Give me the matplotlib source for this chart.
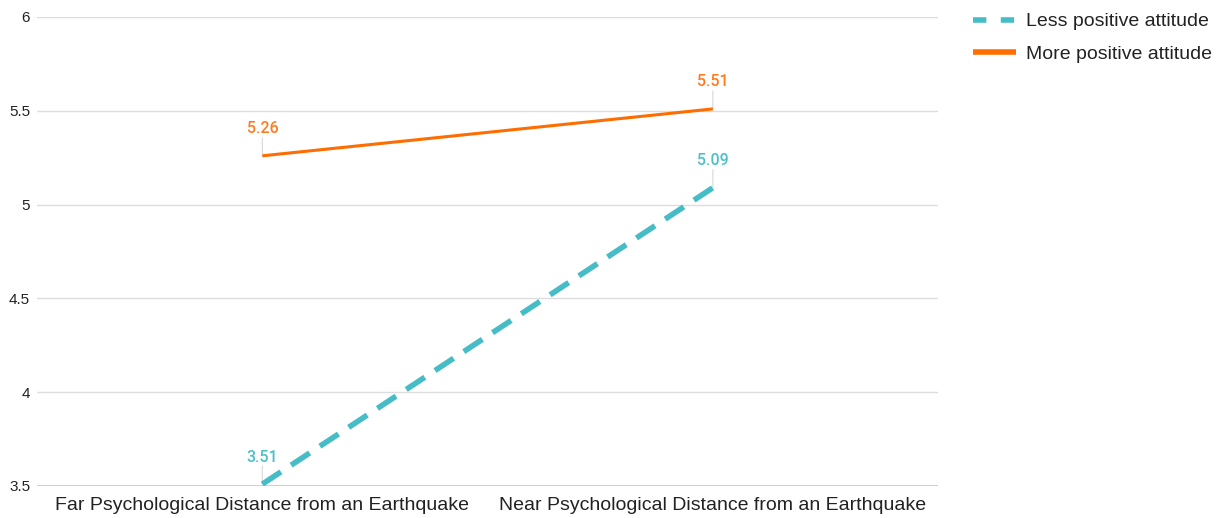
import matplotlib
matplotlib.use("Agg")
import matplotlib.pyplot as plt
from matplotlib.lines import Line2D

categories = ["Far Psychological Distance from an Earthquake",
              "Near Psychological Distance from an Earthquake"]
less_positive = [3.51, 5.09]
more_positive = [5.26, 5.51]
y_ticks = [3.5, 4, 4.5, 5, 5.5, 6]
y_tick_labels = ["3.5", "4", "4.5", "5", "5.5", "6"]

TEAL = "#46bdc6"
ORANGE = "#ff6d01"
TEAL_TXT = "#4cc0c9"
ORANGE_TXT = "#ff7b1f"

fig = plt.figure(figsize=(12.23, 5.18), dpi=100)
ax = fig.add_axes([0.0303, 0.0618, 0.7368, 0.9054])

x = list(range(len(categories)))
ax.plot(x, more_positive, color=ORANGE, lw=2.2, solid_capstyle="butt", zorder=3)
ax.plot(x, less_positive, color=TEAL, lw=4, dashes=(4, 2.2), dash_capstyle="butt", zorder=3)

ax.set_xlim(-0.5, 1.5)
ax.set_ylim(3.5, 6)
ax.set_yticks(y_ticks)
ax.set_yticklabels(y_tick_labels, family="Liberation Sans", fontsize=11, color="#222222")
ax.set_xticks(x)
ax.set_xticklabels(categories, family="Liberation Sans", fontsize=14, color="#222222")
ax.tick_params(axis="y", length=0, pad=5)
ax.tick_params(axis="x", length=0, pad=8)

for s in ax.spines.values():
    s.set_visible(False)
ax.grid(axis="y", color="#dddddd", lw=1)
ax.axhline(3.5, color="#c8c8c8", lw=1.2, zorder=2)
ax.set_axisbelow(True)

# data labels with short leader lines
for series, txtcol in ((more_positive, ORANGE_TXT), (less_positive, TEAL_TXT)):
    for xi, v in zip(x, series):
        ax.annotate("", xy=(xi, v), xytext=(0, 13), textcoords="offset points",
                    arrowprops=dict(arrowstyle="-", color="#d8d8d8", lw=0.8,
                                    shrinkA=0, shrinkB=0), zorder=2)
        ax.annotate(f"{v:.2f}", xy=(xi, v), xytext=(0, 14), textcoords="offset points",
                    ha="center", va="bottom", color=txtcol, family="Roboto",
                    fontsize=11.5, weight="medium")

handles = [Line2D([], [], color=TEAL, lw=4, dashes=(2.4, 2.6), dash_capstyle="butt"),
           Line2D([], [], color=ORANGE, lw=4, solid_capstyle="butt")]
leg = fig.legend(handles, ["Less positive attitude", "More positive attitude"],
                 loc="upper left", bbox_to_anchor=(0.781, 1.009), frameon=False,
                 handlelength=2.25, handletextpad=0.5, labelspacing=0.75,
                 prop={"family": "Liberation Sans", "size": 14})
for t in leg.get_texts():
    t.set_color("#222222")

fig.savefig("out.png", dpi=100)
